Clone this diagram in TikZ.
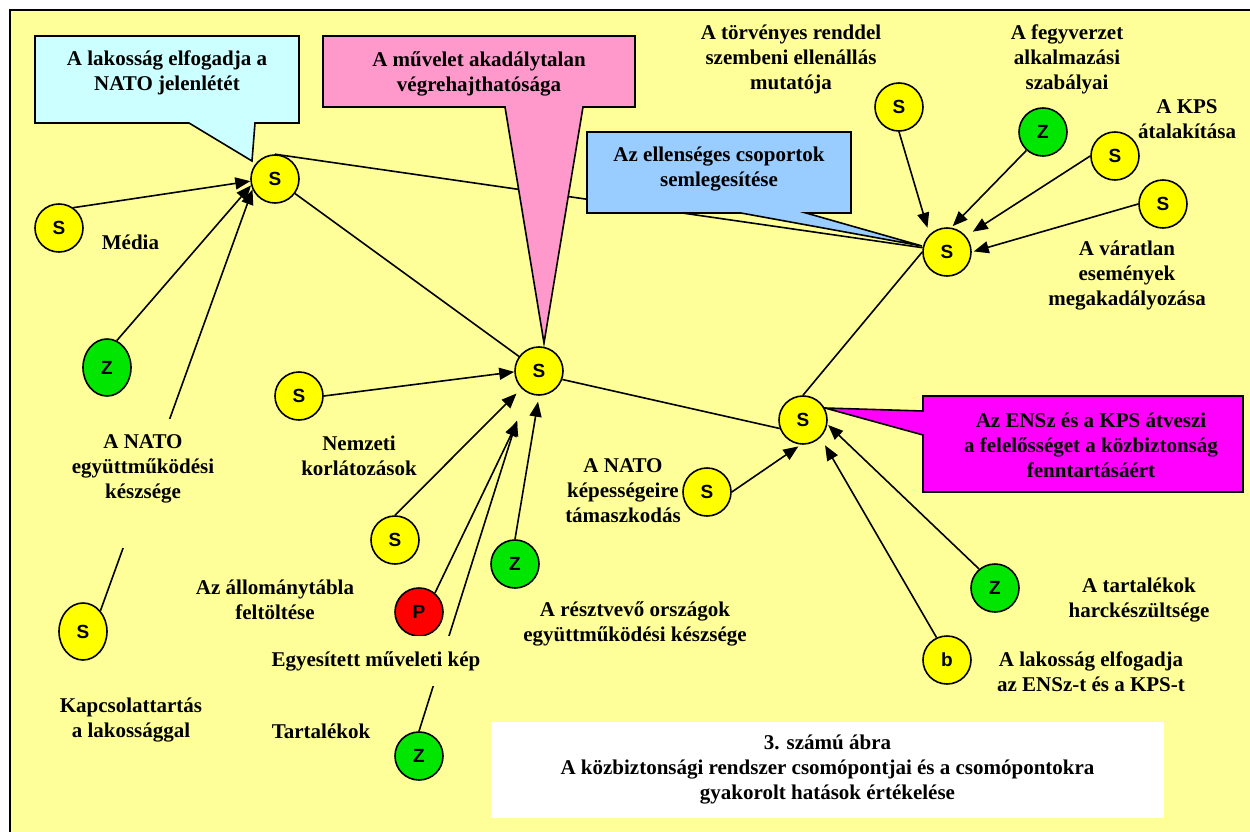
\documentclass[tikz,border=0pt]{standalone}
\usepackage{fontspec}
\setmainfont{Liberation Serif}
\setsansfont{Liberation Sans}
\usetikzlibrary{shapes.geometric,arrows.meta}

\definecolor{paper}{HTML}{FFFF99}
\definecolor{nodeyellow}{HTML}{FFFF00}
\definecolor{nodegreen}{HTML}{00E600}
\definecolor{nodered}{HTML}{FF0000}
\definecolor{callcyan}{HTML}{CCFFFF}
\definecolor{callpink}{HTML}{FF99CC}
\definecolor{callblue}{HTML}{99CCFF}
\definecolor{callmagenta}{HTML}{FF00FF}

\pgfdeclarelayer{back}
\pgfdeclarelayer{edges}
\pgfdeclarelayer{calls}
\pgfsetlayers{back,edges,calls,main}

\tikzset{
  hub/.style={ellipse, draw, line width=1.6pt, minimum width=48pt, minimum height=48pt,
    inner sep=0pt, font=\sffamily\bfseries\fontsize{19}{19}\selectfont},
  ynode/.style={hub, fill=nodeyellow},
  gnode/.style={hub, fill=nodegreen},
  rnode/.style={hub, fill=nodered},
  tall/.style={minimum height=57pt},
  lbl/.style={align=center, font=\bfseries\fontsize{21}{25}\selectfont, inner sep=0pt},
  masklbl/.style={lbl, fill=paper, inner xsep=4pt, inner ysep=15pt},
  link/.style={line width=1.6pt},
  feed/.style={link, -{Triangle[length=15pt,width=12pt]}},
  callbox/.style={draw, line width=1.6pt, line join=miter},
}

\begin{document}
\begin{tikzpicture}[x=1pt,y=-1pt]
\useasboundingbox (0,0) rectangle (1250,832);

% sheet and frame
\begin{pgfonlayer}{back}
  \fill[white] (0,0) rectangle (1250,832);
  \fill[paper] (10,11) rectangle (1250,832);
  \draw[line width=1.7pt] (10.2,832) -- (10.2,10.2) -- (1250,10.2);
\end{pgfonlayer}

% nodes of the security system
\node[ynode] (sA) at (275,179) {S};
\node[ynode] (sMedia) at (59,228) {S};
\node[gnode, tall] (zNATO) at (107,367.5) {Z};
\node[ynode, tall] (sKapcs) at (83,631.5) {S};
\node[ynode] (sCenter) at (539,371) {S};
\node[ynode] (sNemzeti) at (299,396) {S};
\node[ynode] (sAllomany) at (395,540) {S};
\node[rnode] (pRed) at (419,612) {P};
\node[gnode] (zResz) at (515,564) {Z};
\node[gnode] (zTartalek) at (419,756) {Z};
\node[ynode] (sHubM) at (803,420) {S};
\node[ynode] (sNATOcap) at (707,492) {S};
\node[gnode] (zTart) at (995,588) {Z};
\node[ynode] (bLak) at (947,660) {b};
\node[ynode] (hubR) at (947,252) {S};
\node[ynode] (sTorv) at (899,107) {S};
\node[gnode] (zFegy) at (1043,132) {Z};
\node[ynode] (sKPS) at (1115,156) {S};
\node[ynode] (sVar) at (1163,204) {S};

% influences and links
\begin{pgfonlayer}{edges}
  \draw[feed] (sMedia.55) -- (sA.185);
  \draw[feed] (zNATO.70) -- (sA.195);
  \draw[feed] (sKapcs.50) -- (sA.205);
  \draw[link] (sA) -- (sCenter);
  \draw[link] (sA.north) -- (hubR.170);
  \draw[feed] (sNemzeti.east) -- (sCenter.182);
  \draw[feed, shorten >=7pt] (sAllomany.north) -- (sCenter.225);
  \draw[feed, shorten >=30pt] (pRed.50) -- (sCenter.250);
  \draw[feed, shorten >=30pt] (zTartalek.north) -- (sCenter.238);
  \draw[feed, shorten >=6pt] (zResz.north) -- (sCenter.south);
  \draw[link] (sCenter.-20) -- (sHubM.200);
  \draw[link] (sHubM.north) -- (hubR.west);
  \draw[feed, shorten >=7pt] (sTorv.south) -- (hubR.135);
  \draw[feed, shorten >=2pt] (zFegy.228) -- (hubR.80);
  \draw[feed, shorten >=8pt] (sKPS.west) -- (hubR.40);
  \draw[feed, shorten >=2pt] (sVar.west) -- (hubR.east);
  \draw[feed, shorten >=3pt] (sNATOcap.east) -- (sHubM.265);
  \draw[feed, shorten >=9pt] (bLak.115) -- (sHubM.-45);
  \draw[feed, shorten >=1pt] (zTart.130) -- (sHubM.-10);
\end{pgfonlayer}

% callouts
\coordinate (cyanTip) at (252,161);
\coordinate (pinkTip) at (544,343);
\coordinate (blueTip) at (922,246);
\coordinate (magTip) at (825,408);
\begin{pgfonlayer}{calls}
  \draw[callbox, fill=callcyan] (35,36) -- (299,36) -- (299,123) -- (255,123)
    -- (cyanTip) -- (189,123) -- (35,123) -- cycle;
  \draw[callbox, fill=callpink] (323,36) -- (635,36) -- (635,107) -- (583,107)
    -- (pinkTip) -- (505,107) -- (323,107) -- cycle;
  \draw[callbox, fill=callblue] (587,132) -- (851,132) -- (851,213) -- (806,213)
    -- (blueTip) -- (741,213) -- (587,213) -- cycle;
  \draw[callbox, fill=callmagenta] (923,396) -- (1243,396) -- (1243,492) -- (923,492)
    -- (923,435) -- (magTip) -- (923,411) -- cycle;
\end{pgfonlayer}
\node[lbl] (tCyan) at (167,73) {A lakosság elfogadja a\\NATO jelenlétét};
\node[lbl] (tPink) at (479,73.5) {A művelet akadálytalan\\végrehajthatósága};
\node[lbl] (tBlue) at (719,169) {Az ellenséges csoportok\\semlegesítése};
\node[lbl] (tMag) at (1091,445) {Az ENSz és a KPS átveszi\\a felelősséget a közbiztonság\\fenntartásáért};

% labels of the nodes
\node[lbl] (lTorv) at (791,59.5) {A törvényes renddel\\szembeni ellenállás\\mutatója};
\node[lbl] (lFegy) at (1067,59.5) {A fegyverzet\\alkalmazási\\szabályai};
\node[lbl] (lKPS) at (1187,119.5) {A KPS\\átalakítása};
\node[lbl] (lVar) at (1127,276) {A váratlan\\események\\megakadályozása};
\node[lbl] (lMedia) at (130.5,242) {Média};
\node[masklbl, anchor=north] (lNatoCoop) at (143,419) {A NATO\\együttműködési\\készsége\\[10pt]\mbox{}};
\node[lbl] (lNemzeti) at (359,456) {Nemzeti\\korlátozások};
\node[lbl] (lKapcs) at (131,720) {Kapcsolattartás\\a lakossággal};
\node[lbl] (lNatoCap) at (623,491) {A NATO\\képességeire\\támaszkodás};
\node[lbl] (lAllomany) at (275,600) {Az állománytábla\\feltöltése};
\node[lbl] (lResz) at (635,624) {A résztvevő országok\\együttműködési készsége};
\node[masklbl, anchor=north] (lKep) at (376,636) {Egyesített műveleti kép};
\node[lbl] (lTartalek) at (321,731) {Tartalékok};
\node[lbl] (lHarc) at (1139,600) {A tartalékok\\harckészültsége};
\node[lbl] (lLak) at (1091,672) {A lakosság elfogadja\\az ENSz-t és a KPS-t};

% caption
\node[lbl, fill=white, minimum width=673pt, minimum height=96pt] (caption) at (827.5,770)
  {3. számú ábra\\A közbiztonsági rendszer csomópontjai és a csomópontokra\\gyakorolt hatások értékelése};
\end{tikzpicture}
\end{document}
